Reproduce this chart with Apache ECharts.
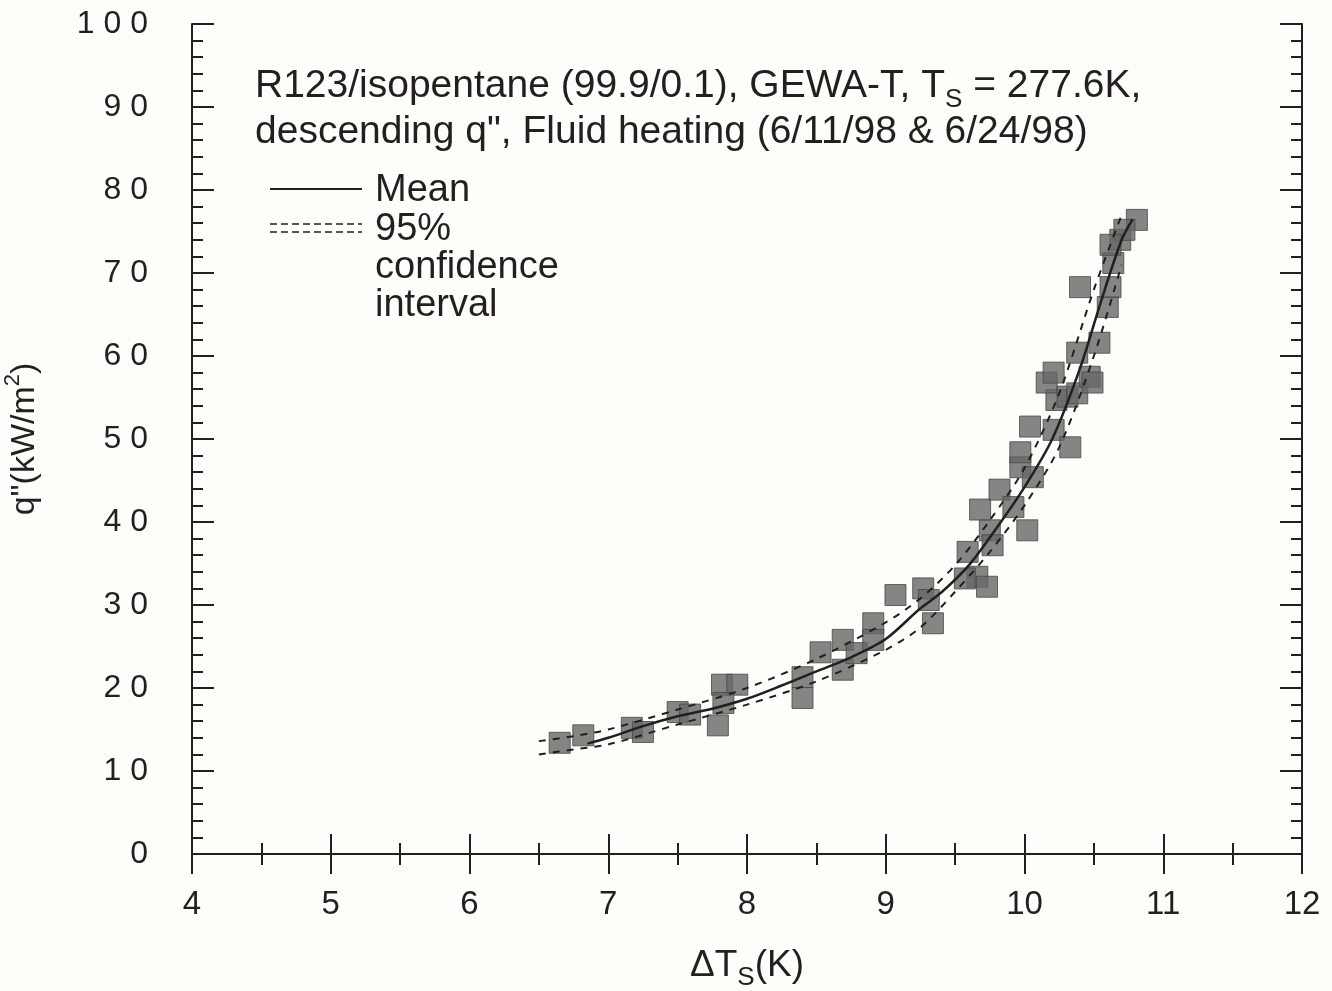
<!DOCTYPE html>
<html>
<head>
<meta charset="utf-8">
<script src="https://cdn.jsdelivr.net/npm/echarts@6/dist/echarts.min.js"></script>
<style>
  html, body { margin: 0; padding: 0; background: #fdfdfa; }
  #chart { width: 1332px; height: 991px; }
</style>
</head>
<body>
<div id="chart"></div>
<script>
// Measured boiling points: wall superheat (K) and heat flux (kW/m^2)
const dTs = [6.65, 6.82, 7.17, 7.25, 7.50, 7.59, 7.82, 7.93, 7.83, 7.79,
             8.40, 8.40, 8.53, 8.69, 8.69, 8.79, 8.91, 8.91, 9.07, 9.27,
             9.31, 9.34, 9.59, 9.66, 9.73, 9.75, 9.68, 9.82, 9.92, 10.02,
             9.77, 9.57, 9.97, 10.06, 9.97, 10.04, 10.21, 10.33, 10.23, 10.16,
             10.21, 10.31, 10.38, 10.47, 10.38, 10.49, 10.54, 10.40, 10.60, 10.62,
             10.64, 10.69, 10.81, 10.72, 10.62];
const qFlux = [13.4, 14.3, 15.2, 14.7, 17.1, 16.8, 20.4, 20.4, 18.2, 15.5,
               21.3, 18.8, 24.3, 25.8, 22.2, 24.2, 27.8, 25.8, 31.2, 32.0,
               30.6, 27.8, 36.4, 33.4, 32.2, 39.0, 41.5, 43.9, 41.8, 39.0,
               37.2, 33.2, 46.6, 45.4, 48.4, 51.5, 51.1, 49.0, 54.7, 56.8,
               58.0, 55.1, 55.5, 57.5, 60.4, 56.8, 61.6, 68.3, 65.9, 68.3,
               71.2, 74.0, 76.4, 75.2, 73.4];

// Fitted mean curve
const meanX = [6.85, 7.0, 7.25, 7.5, 7.75, 8.0, 8.25, 8.5, 8.75, 9.0,
               9.25, 9.4, 9.6, 9.8, 10.0, 10.2, 10.4, 10.55, 10.7, 10.78];
const meanY = [13.3, 14.0, 15.4, 16.6, 17.5, 18.7, 20.3, 22.0, 23.7, 25.9,
               29.6, 31.5, 34.8, 39.3, 44.2, 50.0, 58.5, 66.5, 74.0, 76.5];

// 95% confidence band limits
const upperX = [6.5, 6.75, 7.0, 7.5, 8.0, 8.5, 9.0, 9.25, 9.5, 9.75, 10.0, 10.25, 10.5, 10.7];
const upperY = [13.6, 14.2, 15.0, 17.4, 20.0, 23.5, 27.9, 30.8, 34.8, 40.2, 46.5, 55.5, 68.0, 77.0];
const lowerX = [6.5, 6.75, 7.0, 7.5, 8.0, 8.5, 9.0, 9.25, 9.5, 9.75, 10.0, 10.25, 10.5, 10.7];
const lowerY = [12.0, 12.6, 13.2, 15.6, 18.0, 20.8, 24.6, 27.3, 31.6, 36.4, 42.0, 49.0, 60.0, 71.0];

// Axis tick labels
const xTickLabels = ['4', '5', '6', '7', '8', '9', '10', '11', '12'];
const yTickLabels = ['0', '10', '20', '30', '40', '50', '60', '70', '80', '90', '100'];

const pairs = (xs, ys) => xs.map((x, i) => [x, ys[i]]);
const spaced = s => s.split('').join(' ');

const FONT = '"Liberation Sans", Arial, sans-serif';
const INK = '#231f20';

const chart = echarts.init(document.getElementById('chart'), null, { renderer: 'canvas' });

const tickCommon = {
  axisLine: { show: true, lineStyle: { color: INK, width: 2 } },
  splitLine: { show: false }
};

chart.setOption({
  backgroundColor: '#fdfdfa',
  animation: false,
  grid: { left: 192, right: 30, top: 24, bottom: 137, containLabel: false, outerBoundsMode: 'none' },
  xAxis: [
    Object.assign({
      type: 'value', min: 4, max: 12, interval: 1, position: 'bottom',
      axisTick: { show: true, inside: true, length: 20, lineStyle: { color: INK, width: 2 } },
      minorTick: { show: true, splitNumber: 2, length: 11, lineStyle: { color: INK, width: 2 } },
      axisLabel: {
        margin: 34, color: INK, fontFamily: FONT, fontSize: 33,
        formatter: v => xTickLabels[Math.round(v) - 4] || ''
      },
      name: '{a|ΔT}{s|S}{a|(K)}', nameLocation: 'middle', nameGap: 93,
      nameTextStyle: {
        color: INK, fontFamily: FONT,
        rich: {
          a: { fontSize: 37, fontFamily: FONT, color: INK, lineHeight: 44, verticalAlign: 'top' },
          s: { fontSize: 26, fontFamily: FONT, color: INK, lineHeight: 26, verticalAlign: 'bottom' }
        }
      }
    }, tickCommon),
    Object.assign({
      type: 'value', min: 4, max: 12, interval: 1, position: 'top',
      axisTick: { show: true, inside: true, length: 20, lineStyle: { color: INK, width: 2 } },
      minorTick: { show: true, splitNumber: 2, length: 11, lineStyle: { color: INK, width: 2 } },
      axisLabel: { show: false }
    }, tickCommon)
  ],
  yAxis: [
    Object.assign({
      type: 'value', min: 0, max: 100, interval: 10, position: 'left',
      axisTick: { show: true, inside: true, length: 22, lineStyle: { color: INK, width: 2 } },
      minorTick: { show: true, splitNumber: 5, length: 11, lineStyle: { color: INK, width: 2 } },
      axisLabel: {
        margin: 44, color: INK, fontFamily: FONT, fontSize: 32,
        formatter: v => spaced(yTickLabels[Math.round(v / 10)] || '')
      },
      name: '{a|q"(kW/m}{p|2}{a|)}', nameLocation: 'middle', nameGap: 150, nameRotate: 90,
      nameTextStyle: {
        color: INK, fontFamily: FONT,
        rich: {
          a: { fontSize: 34, fontFamily: FONT, color: INK, lineHeight: 40, verticalAlign: 'bottom' },
          p: { fontSize: 22, fontFamily: FONT, color: INK, lineHeight: 22, verticalAlign: 'top' }
        }
      }
    }, tickCommon),
    Object.assign({
      type: 'value', min: 0, max: 100, interval: 10, position: 'right',
      axisTick: { show: true, inside: true, length: 22, lineStyle: { color: INK, width: 2 } },
      minorTick: { show: true, splitNumber: 5, length: 11, lineStyle: { color: INK, width: 2 } },
      axisLabel: { show: false }
    }, tickCommon)
  ],
  graphic: [
    {
      type: 'text', left: 255, top: 67,
      style: {
        text: '{a|R123/isopentane (99.9/0.1), GEWA-T, T}{s|S}{a| = 277.6K,}\n{a|descending q", Fluid heating (6/11/98 & 6/24/98)}',
        fill: INK, font: '39px ' + FONT,
        rich: {
          a: { fontSize: 39, fontFamily: FONT, fill: INK, lineHeight: 46, verticalAlign: 'top' },
          s: { fontSize: 26, fontFamily: FONT, fill: INK, lineHeight: 26, verticalAlign: 'bottom' }
        }
      }
    },
    // Legend: mean line
    { type: 'line', shape: { x1: 270, y1: 189, x2: 362, y2: 189 }, style: { stroke: INK, lineWidth: 2 } },
    { type: 'text', left: 375, top: 172, style: { text: 'Mean', fill: INK, font: '38px ' + FONT } },
    // Legend: confidence band lines
    { type: 'line', shape: { x1: 270, y1: 224, x2: 362, y2: 224 }, style: { stroke: INK, lineWidth: 1.5, lineDash: [7, 4] } },
    { type: 'line', shape: { x1: 270, y1: 232, x2: 362, y2: 232 }, style: { stroke: INK, lineWidth: 1.5, lineDash: [7, 4] } },
    {
      type: 'text', left: 375, top: 211,
      style: { text: '95%\nconfidence\ninterval', fill: INK, font: '38px ' + FONT, lineHeight: 38 }
    }
  ],
  series: [
    {
      type: 'scatter', name: 'Data', symbol: 'rect', symbolSize: 21,
      data: pairs(dTs, qFlux),
      itemStyle: { color: '#666666', borderColor: '#474747', borderWidth: 1 },
      z: 2
    },
    {
      type: 'line', name: 'Mean', data: pairs(meanX, meanY), smooth: 0.3,
      showSymbol: false, lineStyle: { color: INK, width: 2.5 }, z: 4
    },
    {
      type: 'line', name: 'Upper 95%', data: pairs(upperX, upperY), smooth: 0.3,
      showSymbol: false, lineStyle: { color: INK, width: 2, type: [7, 7] }, z: 3
    },
    {
      type: 'line', name: 'Lower 95%', data: pairs(lowerX, lowerY), smooth: 0.3,
      showSymbol: false, lineStyle: { color: INK, width: 2, type: [7, 7] }, z: 3
    }
  ]
});
</script>
</body>
</html>
